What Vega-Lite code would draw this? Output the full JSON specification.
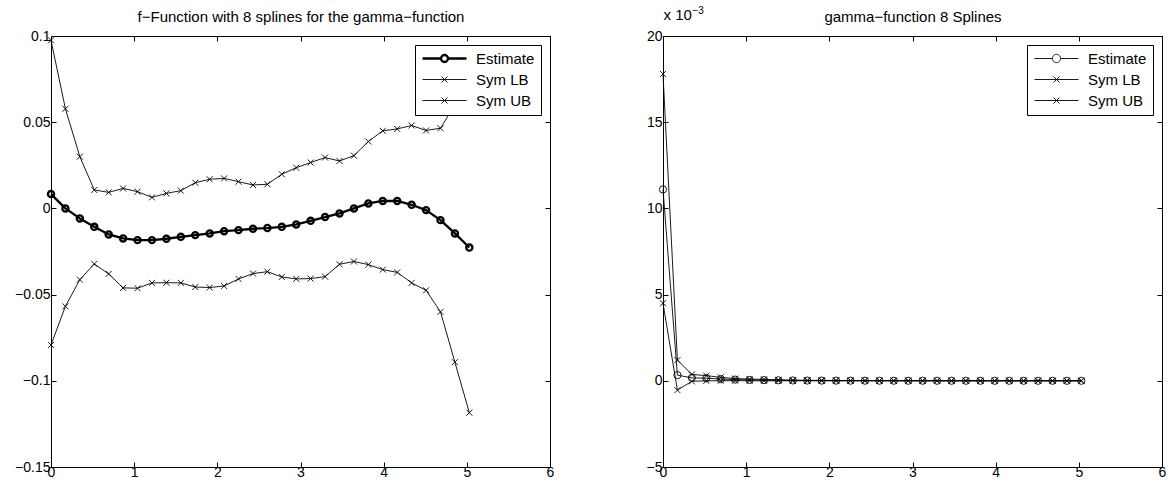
{
  "$schema": "https://vega.github.io/schema/vega-lite/v6.json",
  "background": "white",
  "padding": {"left": 14, "top": 4, "right": 4, "bottom": 4},
  "bounds": "flush",
  "spacing": 113,
  "resolve": {
    "scale": {"shape": "independent", "strokeWidth": "independent"},
    "legend": {"shape": "independent", "strokeWidth": "independent"}
  },
  "config": {
    "font": "Liberation Sans",
    "view": {"stroke": "black", "strokeWidth": 1},
    "axis": {
      "domainColor": "black",
      "domainWidth": 1,
      "tickColor": "black",
      "tickWidth": 1,
      "tickSize": -5,
      "labelFont": "Liberation Sans",
      "labelFontSize": 14,
      "labelColor": "black",
      "grid": false,
      "labelFlush": false,
      "labelOverlap": false,
      "titleFont": "Liberation Sans",
      "titleFontWeight": "normal",
      "titleColor": "black"
    },
    "axisX": {"labelPadding": 3},
    "axisY": {"labelPadding": 6},
    "legend": {
      "title": null,
      "orient": "top-right",
      "offset": 9,
      "strokeColor": "black",
      "fillColor": "white",
      "padding": 6,
      "labelFont": "Liberation Sans",
      "labelFontSize": 15,
      "labelColor": "black",
      "symbolSize": 144,
      "labelOffset": 40,
      "rowPadding": 5
    }
  },
  "datasets": {
    "f": [
      {"x": 0, "series": "Estimate", "y": 0.0083},
      {"x": 0.1734, "series": "Estimate", "y": 0.0},
      {"x": 0.3469, "series": "Estimate", "y": -0.0058},
      {"x": 0.5203, "series": "Estimate", "y": -0.0107},
      {"x": 0.6938, "series": "Estimate", "y": -0.0151},
      {"x": 0.8672, "series": "Estimate", "y": -0.0174},
      {"x": 1.0407, "series": "Estimate", "y": -0.0184},
      {"x": 1.2141, "series": "Estimate", "y": -0.0184},
      {"x": 1.3876, "series": "Estimate", "y": -0.0176},
      {"x": 1.561, "series": "Estimate", "y": -0.0165},
      {"x": 1.7345, "series": "Estimate", "y": -0.0155},
      {"x": 1.9079, "series": "Estimate", "y": -0.0145},
      {"x": 2.0814, "series": "Estimate", "y": -0.0132},
      {"x": 2.2548, "series": "Estimate", "y": -0.0126},
      {"x": 2.4283, "series": "Estimate", "y": -0.0118},
      {"x": 2.6017, "series": "Estimate", "y": -0.0114},
      {"x": 2.7752, "series": "Estimate", "y": -0.0107},
      {"x": 2.9486, "series": "Estimate", "y": -0.0093},
      {"x": 3.1221, "series": "Estimate", "y": -0.0072},
      {"x": 3.2955, "series": "Estimate", "y": -0.005},
      {"x": 3.469, "series": "Estimate", "y": -0.0029},
      {"x": 3.6424, "series": "Estimate", "y": 0.0},
      {"x": 3.8159, "series": "Estimate", "y": 0.0029},
      {"x": 3.9893, "series": "Estimate", "y": 0.0043},
      {"x": 4.1628, "series": "Estimate", "y": 0.0043},
      {"x": 4.3362, "series": "Estimate", "y": 0.0021},
      {"x": 4.5097, "series": "Estimate", "y": -0.001},
      {"x": 4.6831, "series": "Estimate", "y": -0.0068},
      {"x": 4.8566, "series": "Estimate", "y": -0.0145},
      {"x": 5.03, "series": "Estimate", "y": -0.0227},
      {"x": 0, "series": "Sym LB", "y": -0.0792},
      {"x": 0.1734, "series": "Sym LB", "y": -0.0568},
      {"x": 0.3469, "series": "Sym LB", "y": -0.0413},
      {"x": 0.5203, "series": "Sym LB", "y": -0.0322},
      {"x": 0.6938, "series": "Sym LB", "y": -0.038},
      {"x": 0.8672, "series": "Sym LB", "y": -0.0461},
      {"x": 1.0407, "series": "Sym LB", "y": -0.0463},
      {"x": 1.2141, "series": "Sym LB", "y": -0.0432},
      {"x": 1.3876, "series": "Sym LB", "y": -0.0431},
      {"x": 1.561, "series": "Sym LB", "y": -0.0432},
      {"x": 1.7345, "series": "Sym LB", "y": -0.0456},
      {"x": 1.9079, "series": "Sym LB", "y": -0.0459},
      {"x": 2.0814, "series": "Sym LB", "y": -0.045},
      {"x": 2.2548, "series": "Sym LB", "y": -0.0409},
      {"x": 2.4283, "series": "Sym LB", "y": -0.0378},
      {"x": 2.6017, "series": "Sym LB", "y": -0.0367},
      {"x": 2.7752, "series": "Sym LB", "y": -0.0398},
      {"x": 2.9486, "series": "Sym LB", "y": -0.0409},
      {"x": 3.1221, "series": "Sym LB", "y": -0.0407},
      {"x": 3.2955, "series": "Sym LB", "y": -0.0396},
      {"x": 3.469, "series": "Sym LB", "y": -0.0324},
      {"x": 3.6424, "series": "Sym LB", "y": -0.0308},
      {"x": 3.8159, "series": "Sym LB", "y": -0.0326},
      {"x": 3.9893, "series": "Sym LB", "y": -0.0355},
      {"x": 4.1628, "series": "Sym LB", "y": -0.0371},
      {"x": 4.3362, "series": "Sym LB", "y": -0.0432},
      {"x": 4.5097, "series": "Sym LB", "y": -0.0475},
      {"x": 4.6831, "series": "Sym LB", "y": -0.06},
      {"x": 4.8566, "series": "Sym LB", "y": -0.0892},
      {"x": 5.03, "series": "Sym LB", "y": -0.1185},
      {"x": 0, "series": "Sym UB", "y": 0.0975},
      {"x": 0.1734, "series": "Sym UB", "y": 0.0578},
      {"x": 0.3469, "series": "Sym UB", "y": 0.03},
      {"x": 0.5203, "series": "Sym UB", "y": 0.0107},
      {"x": 0.6938, "series": "Sym UB", "y": 0.0093},
      {"x": 0.8672, "series": "Sym UB", "y": 0.0116},
      {"x": 1.0407, "series": "Sym UB", "y": 0.0097},
      {"x": 1.2141, "series": "Sym UB", "y": 0.0064},
      {"x": 1.3876, "series": "Sym UB", "y": 0.0087},
      {"x": 1.561, "series": "Sym UB", "y": 0.0103},
      {"x": 1.7345, "series": "Sym UB", "y": 0.0149},
      {"x": 1.9079, "series": "Sym UB", "y": 0.0169},
      {"x": 2.0814, "series": "Sym UB", "y": 0.0174},
      {"x": 2.2548, "series": "Sym UB", "y": 0.0155},
      {"x": 2.4283, "series": "Sym UB", "y": 0.0136},
      {"x": 2.6017, "series": "Sym UB", "y": 0.014},
      {"x": 2.7752, "series": "Sym UB", "y": 0.0198},
      {"x": 2.9486, "series": "Sym UB", "y": 0.0236},
      {"x": 3.1221, "series": "Sym UB", "y": 0.0266},
      {"x": 3.2955, "series": "Sym UB", "y": 0.0295},
      {"x": 3.469, "series": "Sym UB", "y": 0.0275},
      {"x": 3.6424, "series": "Sym UB", "y": 0.0306},
      {"x": 3.8159, "series": "Sym UB", "y": 0.0388},
      {"x": 3.9893, "series": "Sym UB", "y": 0.045},
      {"x": 4.1628, "series": "Sym UB", "y": 0.0461},
      {"x": 4.3362, "series": "Sym UB", "y": 0.0481},
      {"x": 4.5097, "series": "Sym UB", "y": 0.0452},
      {"x": 4.6831, "series": "Sym UB", "y": 0.0465},
      {"x": 4.8566, "series": "Sym UB", "y": 0.0602},
      {"x": 5.03, "series": "Sym UB", "y": 0.0731}
    ],
    "g": [
      {"x": 0, "series": "Estimate", "y": 0.0111},
      {"x": 0.1734, "series": "Estimate", "y": 0.00033},
      {"x": 0.3469, "series": "Estimate", "y": 0.00017},
      {"x": 0.5203, "series": "Estimate", "y": 0.00015},
      {"x": 0.6938, "series": "Estimate", "y": 0.0001},
      {"x": 0.8672, "series": "Estimate", "y": 0.00007},
      {"x": 1.0407, "series": "Estimate", "y": 0.00005},
      {"x": 1.2141, "series": "Estimate", "y": 0.00004},
      {"x": 1.3876, "series": "Estimate", "y": 0.00003},
      {"x": 1.561, "series": "Estimate", "y": 0.00002},
      {"x": 1.7345, "series": "Estimate", "y": 0.000015},
      {"x": 1.9079, "series": "Estimate", "y": 0.000012},
      {"x": 2.0814, "series": "Estimate", "y": 0.00001},
      {"x": 2.2548, "series": "Estimate", "y": 0.000008},
      {"x": 2.4283, "series": "Estimate", "y": 0.000006},
      {"x": 2.6017, "series": "Estimate", "y": 0.000005},
      {"x": 2.7752, "series": "Estimate", "y": 0.000004},
      {"x": 2.9486, "series": "Estimate", "y": 0.000003},
      {"x": 3.1221, "series": "Estimate", "y": 0.000003},
      {"x": 3.2955, "series": "Estimate", "y": 0.000002},
      {"x": 3.469, "series": "Estimate", "y": 0.000002},
      {"x": 3.6424, "series": "Estimate", "y": 0.000002},
      {"x": 3.8159, "series": "Estimate", "y": 0.000001},
      {"x": 3.9893, "series": "Estimate", "y": 0.000001},
      {"x": 4.1628, "series": "Estimate", "y": 0.000001},
      {"x": 4.3362, "series": "Estimate", "y": 0.000001},
      {"x": 4.5097, "series": "Estimate", "y": 0.000001},
      {"x": 4.6831, "series": "Estimate", "y": 0},
      {"x": 4.8566, "series": "Estimate", "y": 0},
      {"x": 5.03, "series": "Estimate", "y": 0},
      {"x": 0, "series": "Sym LB", "y": 0.0045},
      {"x": 0.1734, "series": "Sym LB", "y": -0.00054},
      {"x": 0.3469, "series": "Sym LB", "y": -0.00003},
      {"x": 0.5203, "series": "Sym LB", "y": 0},
      {"x": 0.6938, "series": "Sym LB", "y": 0},
      {"x": 0.8672, "series": "Sym LB", "y": 0.00001},
      {"x": 1.0407, "series": "Sym LB", "y": 0},
      {"x": 1.2141, "series": "Sym LB", "y": 0},
      {"x": 1.3876, "series": "Sym LB", "y": 0},
      {"x": 1.561, "series": "Sym LB", "y": 0},
      {"x": 1.7345, "series": "Sym LB", "y": 0},
      {"x": 1.9079, "series": "Sym LB", "y": 0},
      {"x": 2.0814, "series": "Sym LB", "y": 0},
      {"x": 2.2548, "series": "Sym LB", "y": 0},
      {"x": 2.4283, "series": "Sym LB", "y": 0},
      {"x": 2.6017, "series": "Sym LB", "y": 0},
      {"x": 2.7752, "series": "Sym LB", "y": 0},
      {"x": 2.9486, "series": "Sym LB", "y": 0},
      {"x": 3.1221, "series": "Sym LB", "y": 0},
      {"x": 3.2955, "series": "Sym LB", "y": 0},
      {"x": 3.469, "series": "Sym LB", "y": 0},
      {"x": 3.6424, "series": "Sym LB", "y": 0},
      {"x": 3.8159, "series": "Sym LB", "y": 0},
      {"x": 3.9893, "series": "Sym LB", "y": 0},
      {"x": 4.1628, "series": "Sym LB", "y": 0},
      {"x": 4.3362, "series": "Sym LB", "y": 0},
      {"x": 4.5097, "series": "Sym LB", "y": 0},
      {"x": 4.6831, "series": "Sym LB", "y": 0},
      {"x": 4.8566, "series": "Sym LB", "y": 0},
      {"x": 5.03, "series": "Sym LB", "y": 0},
      {"x": 0, "series": "Sym UB", "y": 0.0178},
      {"x": 0.1734, "series": "Sym UB", "y": 0.0012},
      {"x": 0.3469, "series": "Sym UB", "y": 0.00037},
      {"x": 0.5203, "series": "Sym UB", "y": 0.0003},
      {"x": 0.6938, "series": "Sym UB", "y": 0.0002},
      {"x": 0.8672, "series": "Sym UB", "y": 0.00013},
      {"x": 1.0407, "series": "Sym UB", "y": 0.0001},
      {"x": 1.2141, "series": "Sym UB", "y": 0.00008},
      {"x": 1.3876, "series": "Sym UB", "y": 0.00006},
      {"x": 1.561, "series": "Sym UB", "y": 0.00004},
      {"x": 1.7345, "series": "Sym UB", "y": 0.00003},
      {"x": 1.9079, "series": "Sym UB", "y": 0.000024},
      {"x": 2.0814, "series": "Sym UB", "y": 0.00002},
      {"x": 2.2548, "series": "Sym UB", "y": 0.000016},
      {"x": 2.4283, "series": "Sym UB", "y": 0.000012},
      {"x": 2.6017, "series": "Sym UB", "y": 0.00001},
      {"x": 2.7752, "series": "Sym UB", "y": 0.000008},
      {"x": 2.9486, "series": "Sym UB", "y": 0.000006},
      {"x": 3.1221, "series": "Sym UB", "y": 0.000006},
      {"x": 3.2955, "series": "Sym UB", "y": 0.000004},
      {"x": 3.469, "series": "Sym UB", "y": 0.000004},
      {"x": 3.6424, "series": "Sym UB", "y": 0.000004},
      {"x": 3.8159, "series": "Sym UB", "y": 0.000002},
      {"x": 3.9893, "series": "Sym UB", "y": 0.000002},
      {"x": 4.1628, "series": "Sym UB", "y": 0.000002},
      {"x": 4.3362, "series": "Sym UB", "y": 0.000002},
      {"x": 4.5097, "series": "Sym UB", "y": 0.000002},
      {"x": 4.6831, "series": "Sym UB", "y": 0.000001},
      {"x": 4.8566, "series": "Sym UB", "y": 0.000001},
      {"x": 5.03, "series": "Sym UB", "y": 0.000001}
    ]
  },
  "hconcat": [
    {
      "width": 499,
      "height": 431,
      "data": {"name": "f"},
      "resolve": {"axis": {"x": "independent", "y": "independent"}},
      "encoding": {
        "x": {"field": "x", "type": "quantitative", "title": null,
          "scale": {"domain": [0, 6], "nice": false, "zero": false}},
        "y": {"field": "y", "type": "quantitative", "title": null,
          "scale": {"domain": [-0.15, 0.1], "nice": false, "zero": false}}
      },
      "layer": [
        {
          "transform": [{"filter": "datum.series === 'Estimate'"}],
          "mark": {"type": "line", "color": "black", "strokeWidth": 2.3, "strokeJoin": "round"},
          "encoding": {
            "x": {"field": "x", "type": "quantitative", "title": null,
              "axis": {"orient": "bottom", "values": [0, 1, 2, 3, 4, 5, 6], "format": "d"}},
            "y": {"field": "y", "type": "quantitative", "title": null,
              "axis": {"orient": "left", "values": [-0.15, -0.1, -0.05, 0, 0.05, 0.1], "format": ".2~r"}}
          }
        },
        {
          "transform": [{"filter": "datum.series !== 'Estimate'"}],
          "mark": {"type": "line", "color": "black", "strokeWidth": 0.9, "strokeJoin": "round"},
          "encoding": {
            "x": {"field": "x", "type": "quantitative", "axis": null},
            "y": {"field": "y", "type": "quantitative", "axis": null},
            "detail": {"field": "series", "type": "nominal"}
          }
        },
        {
          "transform": [{"filter": "datum.series === 'Estimate'"}],
          "mark": {"type": "point", "shape": "circle", "filled": false, "color": "black", "opacity": 1, "size": 38, "strokeWidth": 2.3},
          "encoding": {
            "x": {"field": "x", "type": "quantitative", "axis": null},
            "y": {"field": "y", "type": "quantitative", "axis": null}
          }
        },
        {
          "transform": [{"filter": "datum.series !== 'Estimate'"}],
          "mark": {"type": "point", "shape": "M-1,-1L1,1M-1,1L1,-1", "filled": false, "color": "black", "opacity": 1, "size": 36, "strokeWidth": 0.9},
          "encoding": {
            "x": {"field": "x", "type": "quantitative",
              "axis": {"orient": "top", "values": [0, 1, 2, 3, 4, 5, 6], "labels": false,
                "title": "f−Function with 8 splines for the gamma−function",
                "titleFontSize": 15, "titleAlign": "center", "titleBaseline": "alphabetic",
                "titleX": 249.5, "titleY": -15}},
            "y": {"field": "y", "type": "quantitative", "title": null,
              "axis": {"orient": "right", "values": [-0.15, -0.1, -0.05, 0, 0.05, 0.1], "labels": false}}
          }
        },
        {
          "mark": {"type": "point", "filled": false, "color": "black", "opacity": 0},
          "encoding": {
            "x": {"field": "x", "type": "quantitative", "axis": null},
            "y": {"field": "y", "type": "quantitative", "axis": null},
            "shape": {"field": "series", "type": "nominal",
              "scale": {"domain": ["Estimate", "Sym LB", "Sym UB"],
                "range": [
                  "M-1,0L2.083,0M3.25,0L6.333,0M3.25,0A0.583,0.583,0,1,1,2.083,0A0.583,0.583,0,1,1,3.25,0",
                  "M-1,0L6.333,0M2.167,-0.5L3.167,0.5M2.167,0.5L3.167,-0.5",
                  "M-1,0L6.333,0M2.167,-0.5L3.167,0.5M2.167,0.5L3.167,-0.5"]},
              "legend": {
                "orient": "top-right",
                "encoding": {"symbols": {
                  "stroke": {"value": "black"},
                  "fill": {"value": "transparent"},
                  "opacity": {"value": 1}
                }}
              }},
            "strokeWidth": {"field": "series", "type": "nominal",
              "scale": {"type": "ordinal", "domain": ["Estimate", "Sym LB", "Sym UB"], "range": [2.3, 0.9, 0.9]},
              "legend": {
                "orient": "top-right",
                "encoding": {"symbols": {
                  "stroke": {"value": "black"},
                  "fill": {"value": "transparent"},
                  "opacity": {"value": 1}
                }}
              }}
          }
        }
      ]
    },
    {
      "width": 499,
      "height": 431,
      "data": {"name": "g"},
      "resolve": {"axis": {"x": "independent", "y": "independent"}},
      "encoding": {
        "x": {"field": "x", "type": "quantitative", "title": null,
          "scale": {"domain": [0, 6], "nice": false, "zero": false}},
        "y": {"field": "y", "type": "quantitative", "title": null,
          "scale": {"domain": [-0.005, 0.02], "nice": false, "zero": false}}
      },
      "layer": [
        {
          "mark": {"type": "line", "color": "black", "strokeWidth": 0.9, "strokeJoin": "round"},
          "encoding": {
            "x": {"field": "x", "type": "quantitative", "title": null,
              "axis": {"orient": "bottom", "values": [0, 1, 2, 3, 4, 5, 6], "format": "d"}},
            "y": {"field": "y", "type": "quantitative",
              "axis": {"orient": "left", "values": [-0.005, 0, 0.005, 0.01, 0.015, 0.02],
                "labelExpr": "format(round(datum.value * 1000), 'd')",
                "title": "x 10", "titleAngle": 0, "titleAlign": "left", "titleBaseline": "alphabetic",
                "titleX": 0, "titleY": -17, "titleFontSize": 15}},
            "detail": {"field": "series", "type": "nominal"}
          }
        },
        {
          "transform": [{"filter": "datum.series === 'Estimate'"}],
          "mark": {"type": "point", "shape": "circle", "filled": false, "color": "black", "opacity": 1, "size": 52, "strokeWidth": 0.9},
          "encoding": {
            "x": {"field": "x", "type": "quantitative", "axis": null},
            "y": {"field": "y", "type": "quantitative", "axis": null}
          }
        },
        {
          "transform": [{"filter": "datum.series !== 'Estimate'"}],
          "mark": {"type": "point", "shape": "M-1,-1L1,1M-1,1L1,-1", "filled": false, "color": "black", "opacity": 1, "size": 36, "strokeWidth": 0.9},
          "encoding": {
            "x": {"field": "x", "type": "quantitative",
              "axis": {"orient": "top", "values": [0, 1, 2, 3, 4, 5, 6], "labels": false,
                "title": "gamma−function 8 Splines",
                "titleFontSize": 15, "titleAlign": "center", "titleBaseline": "alphabetic",
                "titleX": 249.5, "titleY": -15}},
            "y": {"field": "y", "type": "quantitative",
              "axis": {"orient": "right", "values": [-0.005, 0, 0.005, 0.01, 0.015, 0.02], "labels": false,
                "title": "−3", "titleAngle": 0, "titleAlign": "left", "titleBaseline": "alphabetic",
                "titleX": -470, "titleY": -23, "titleFontSize": 10}}
          }
        },
        {
          "mark": {"type": "point", "filled": false, "color": "black", "opacity": 0, "strokeWidth": 0.9},
          "encoding": {
            "x": {"field": "x", "type": "quantitative", "axis": null},
            "y": {"field": "y", "type": "quantitative", "axis": null},
            "shape": {"field": "series", "type": "nominal",
              "scale": {"domain": ["Estimate", "Sym LB", "Sym UB"],
                "range": [
                  "M-1,0L2,0M3.333,0L6.333,0M3.333,0A0.667,0.667,0,1,1,2,0A0.667,0.667,0,1,1,3.333,0",
                  "M-1,0L6.333,0M2.167,-0.5L3.167,0.5M2.167,0.5L3.167,-0.5",
                  "M-1,0L6.333,0M2.167,-0.5L3.167,0.5M2.167,0.5L3.167,-0.5"]},
              "legend": {
                "orient": "top-right",
                "encoding": {"symbols": {
                  "stroke": {"value": "black"},
                  "fill": {"value": "transparent"},
                  "strokeWidth": {"value": 0.9},
                  "opacity": {"value": 1}
                }}
              }}
          }
        }
      ]
    }
  ]
}
